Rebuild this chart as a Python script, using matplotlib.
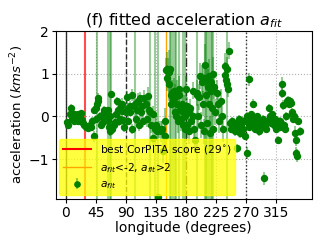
import numpy as np
import matplotlib
matplotlib.use('Agg')
import matplotlib.pyplot as plt
from matplotlib.lines import Line2D

# longitude (deg), fitted acceleration (km s^-2), error
lon = [2, 4, 6, 8, 9, 11, 12, 13, 14, 15, 16, 17, 18, 19, 20, 21, 22, 23, 24, 26,
       28, 30, 32, 34, 36, 38, 40,
       42, 43, 45, 46, 47, 48, 49, 51, 53, 55, 57, 58, 59, 60, 61, 62, 63, 64, 65,
       66, 67, 68, 70,
       72, 74, 76, 77, 78, 80, 81, 83, 84, 85, 86, 88, 90, 92, 93, 94, 96, 97, 99, 100,
       102, 104, 105, 107, 108, 110, 111, 113, 115, 116, 118, 120, 121, 123, 124, 126,
       128, 130, 131, 133, 135, 137, 138, 140,
       142, 144, 146, 148, 149, 150, 151, 152, 153, 154, 155, 156, 157, 158, 159, 160,
       161, 162, 163, 164, 165, 166, 167, 168, 169, 170, 171, 172, 174, 175, 176, 177,
       178, 179, 180,
       181, 182, 184, 185, 186, 188, 190, 191, 192, 194, 196, 197, 198, 200, 201, 202,
       204, 205, 206, 207, 208, 209, 210, 211, 212, 213, 214, 215, 216, 217, 218, 219,
       220, 221, 222, 224, 226, 228, 230, 232, 234, 236, 238, 239, 240, 241, 242, 243, 245,
       246, 247, 249, 250, 252, 254, 256, 257, 258, 260, 261, 263, 265, 266, 268, 270,
       271, 272, 274, 275, 276, 277, 279, 280, 281, 283, 284, 286, 287, 289, 290, 292,
       294, 295, 297, 298, 300, 302, 304, 305, 307, 308, 310, 312, 313, 315, 317, 318,
       320, 321, 323, 324, 325, 326, 328, 330, 331, 333, 334, 336, 337, 338, 339, 340,
       342, 343, 344, 345, 346, 348, 350]
acc = [-0.12, -0.2, 0.05, 0.2, -0.05, 0.02, -0.1, 0.05, -0.02, -0.08, 0.03, -0.05, 0.06, -0.1, 0.0, 0.05, -0.03, 0.08, -0.08, -0.15,
       -0.2, -0.25, -0.22, -0.27, -0.2, -0.25, -0.1,
       0.15, -0.47, 0.2, -0.05, 0.3, 0.35, 0.42, 0.0, -0.2, -0.15, 0.1, 0.15, -0.05, 0.12, 0.1, 0.05, -0.1, 0.15, -0.25,
       0.0, -0.35, 0.52, -0.3,
       -0.2, -0.12, 0.05, 0.35, 0.15, -0.1, -0.05, 0.25, 0.12, 0.3, -0.08, -0.25, 0.1, 0.45, 0.2, -0.1, 0.25, 0.1, 0.5, -0.3,
       0.25, 0.3, -0.05, 0.15, 0.35, -0.2, 0.42, 0.1, 0.25, -0.1, 0.42, 0.3, -0.05, 0.48, 0.15, 0.1,
       -0.2, 0.05, -0.5, -0.3, -0.2, -0.35, -1.9, -0.3,
       -0.35, -0.3, -0.8, -0.45, -0.1, 1.08, 1.1, 0.9, 1.06, 0.75, 1.05, 1.12, 0.5, 0.3, 0.55, 0.4,
       0.35, 0.6, 0.1, 0.45, 0.0, 0.55, 0.3, -0.1, 0.65, 0.5, 0.15, -0.05, 0.3, 0.1, -0.2, 0.2,
       -0.3, 0.0, 0.65,
       -0.2, 0.25, -0.35, 0.1, 0.2, -0.1, 0.0, 0.6, -0.3, -0.55, 0.5, 0.55, 0.0, 0.45, 0.95, -0.2,
       0.8, 0.3, 0.85, -0.35, 0.9, 1.2, 0.5, 0.8, -0.15, 0.7, 0.95, 0.3, -0.4, 0.8, 0.6, 0.2,
       1.0, -0.3, 0.7, 0.1, 0.55, 0.3, -0.1, 0.35, 0.0, -0.3, 1.18, 0.97, 0.85, 1.1, 0.75, 0.65, 1.54,
       -0.15, -0.3, -0.1, -0.25, -0.2, -0.35, -0.75, -0.15, -0.3, -0.05, -0.4, -0.2, -0.3, -0.1, -0.45, -0.1,
       -0.86, 0.0, -0.25, 0.87, -0.1, 0.05, -0.2, 0.3, -0.05, -0.15, -0.3, 0.0, -0.2, -0.1, -0.35, -0.15,
       -0.25, -0.05, -1.45, -0.2, -0.3, -0.1, 0.2, 0.0, -0.15, 0.05, -0.1, -0.2, -0.05, -0.3, -0.15, -0.55,
       -0.1, -0.25, 0.77, 0.55, 0.27, -0.2, -0.3, 0.0, 0.35, 0.38, 0.3, 0.35, 0.32, 0.1, 0.05, -0.05,
       0.0, -0.38, -0.55, -0.86, -0.92, -0.1, -0.35]
err = [0.05, 0.06, 0.05, 0.08, 0.05, 0.05, 0.06, 0.05, 0.05, 0.05, 0.05, 0.05, 0.05, 0.06, 0.05, 0.05, 0.05, 0.06, 0.05, 0.06,
       0.05, 0.06, 0.05, 0.06, 0.05, 0.06, 0.08,
       0.1, 0.12, 0.1, 0.08, 4.0, 0.12, 0.12, 0.1, 0.08, 0.08, 0.1, 0.1, 0.08, 0.1, 0.08, 0.1, 0.08, 4.0, 0.1,
       4.0, 0.1, 4.0, 0.08,
       0.08, 0.1, 0.1, 0.1, 0.1, 0.12, 0.1, 0.12, 0.1, 0.12, 0.1, 0.12, 0.1, 0.15, 0.12, 0.1, 0.1, 0.1, 0.15, 0.12,
       0.15, 4.0, 0.12, 0.15, 0.2, 0.15, 0.15, 0.15, 0.2, 0.15, 0.2, 0.2, 0.2, 0.2, 0.25, 4.0,
       0.2, 0.2, 0.2, 4.0, 0.2, 0.2, 4.0, 0.2,
       0.25, 0.2, 0.3, 0.3, 0.3, 0.3, 0.4, 0.3, 0.3, 0.4, 0.5, 4.0, 0.3, 4.0, 0.3, 4.0,
       0.3, 0.3, 4.0, 0.3, 4.0, 0.3, 0.3, 0.3, 0.3, 4.0, 0.3, 0.3, 0.3, 4.0, 0.3, 0.3,
       0.3, 4.0, 0.3,
       0.3, 0.2, 0.3, 0.2, 0.2, 0.2, 0.2, 0.2, 0.2, 0.3, 4.0, 0.3, 0.3, 0.3, 0.3, 0.3,
       0.4, 0.3, 0.4, 0.3, 4.0, 0.5, 4.0, 0.3, 4.0, 0.4, 0.4, 4.0, 0.4, 4.0, 0.3, 4.0,
       0.4, 4.0, 0.3, 0.3, 0.3, 0.3, 0.3, 0.3, 0.3, 0.3, 0.3, 0.3, 0.2, 0.3, 4.0, 0.2, 0.2,
       0.1, 0.1, 0.08, 0.1, 0.08, 0.1, 0.1, 0.08, 0.08, 0.08, 0.1, 0.08, 0.1, 0.08, 0.1, 0.1,
       0.15, 0.1, 0.1, 0.15, 0.08, 0.08, 0.08, 0.1, 0.08, 0.08, 0.1, 0.08, 0.08, 0.08, 0.1, 0.08,
       0.1, 0.08, 0.15, 0.08, 0.1, 0.08, 0.1, 0.08, 0.1, 0.08, 0.08, 0.1, 0.08, 0.1, 0.08, 0.1,
       0.08, 0.1, 0.15, 0.12, 0.12, 0.1, 0.1, 0.1, 0.1, 0.1, 0.1, 0.1, 0.12, 0.1, 0.1, 0.1,
       0.1, 0.15, 0.15, 0.15, 0.15, 0.1, 0.1]

out_of_range_lon = [150]   # a_fit < -2 or a_fit > 2
best_lon = 29               # best CorPITA score
quadrant_lon = [0, 90, 180, 270]
quadrant_style = ['-', '--', '-.', ':']

fig = plt.figure(figsize=(3.27, 2.45), dpi=100)
ax = fig.add_axes([0.171, 0.189, 0.782, 0.684])

ax.grid(True, linestyle=':', color='#b0b0b0', linewidth=0.8)
for q, ls in zip(quadrant_lon, quadrant_style):
    ax.axvline(q, color='k', linestyle=ls, linewidth=1.0, alpha=0.8)

for o in out_of_range_lon:
    ax.axvline(o, color='orange', linewidth=1.0)
ax.axvline(best_lon, color='red', linewidth=1.5, alpha=0.7)

ax.errorbar(lon, acc, yerr=err, fmt='o', color='green', markersize=4.3,
            ecolor=(0.0, 0.5, 0.0, 0.4), elinewidth=1.5)

ax.set_xlim(-14.5, 368)
ax.set_ylim(-1.93, 2)
ax.set_xticks(np.arange(0, 360, 45))
ax.set_yticks([-1, 0, 1, 2])
ax.tick_params(labelsize=10, length=3, pad=2)
ax.set_title('(f) fitted acceleration $a_{fit}$', fontsize=11.5, pad=4)
ax.set_xlabel('longitude (degrees)', fontsize=10, labelpad=1)
ax.set_ylabel('acceleration ($kms^{-2}$)', fontsize=9.5, labelpad=2)

handles = [Line2D([], [], color='red', linewidth=1.5),
           Line2D([], [], color='orange', linewidth=1.0),
           ax.errorbar([], [], yerr=[], fmt='o', color='green', markersize=3.8,
                       ecolor=(0.0, 0.5, 0.0, 0.4), elinewidth=1.5)]
labels = ['best CorPITA score (29$^{\\circ}$)', '$a_{fit}$<-2, $a_{fit}$>2', '$a_{fit}$']
ax.legend(handles, labels, loc='lower left', fontsize=7.7, facecolor='yellow',
          framealpha=0.75, edgecolor='yellow', handlelength=2.6, labelspacing=0.45,
          borderpad=0.4, borderaxespad=0.3)

fig.savefig('out.png', dpi=100)
